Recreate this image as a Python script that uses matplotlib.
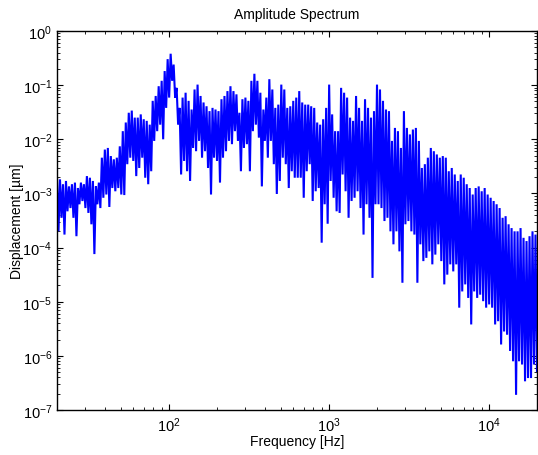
import numpy as np
import matplotlib
matplotlib.use('Agg')
import matplotlib.pyplot as plt

# amplitude spectrum
# (log10 of displacement in um, upper and lower edge of the trace)
hiLog = [-2.71, -2.74, -2.83, -2.77, -2.87, -2.83, -2.80, -2.90, -2.80, -2.83, -2.68, -2.71, -2.77, -2.87, -2.80, -2.34,
         -2.19, -2.16, -2.31, -2.37, -2.34, -2.13, -1.85, -1.69, -1.51, -1.47, -1.60,
         -1.60, -1.54, -1.63, -1.66, -1.73, -1.29, -1.20, -1.02, -0.92, -0.74, -0.52, -0.42, -0.62, -1.05, -1.42, -1.23,
         -1.14, -1.29, -1.45, -1.08, -0.99, -1.20, -1.32, -1.39, -1.48, -1.42, -1.45,
         -1.48, -1.26, -1.20, -1.11, -1.02, -1.11, -1.17, -1.51, -1.26, -1.23, -1.29, -0.92, -0.79, -0.92, -1.14, -1.45,
         -1.23, -0.89, -1.08, -1.42, -1.36, -0.99, -1.08, -1.42, -1.39, -1.29, -1.23,
         -1.11, -1.32, -1.36, -1.36, -1.39, -1.42, -1.69, -1.73, -1.63, -1.42, -0.99, -1.54, -1.85, -1.85, -1.05, -1.14,
         -1.23, -1.60, -1.66, -1.20, -1.42, -1.66, -1.26, -1.42, -1.60, -1.48,
         -0.99, -1.08, -1.29, -1.45, -1.48, -2.03, -1.79, -1.85, -2.16, -1.48, -1.79, -1.91, -1.82, -1.79, -2.03, -2.53,
         -2.46, -2.34, -2.16, -2.22, -2.28, -2.34, -2.31, -2.34, -2.59, -2.53, -2.65,
         -2.77, -2.65, -2.71, -2.83, -2.90, -3.02, -2.90, -2.87, -2.96, -2.90, -3.02, -3.08, -3.14, -3.20, -3.27, -3.45,
         -3.42, -3.57, -3.64, -3.70, -3.70, -3.64, -3.82, -3.88, -3.79, -3.70, -3.76]

loLog = [-3.70, -3.45, -3.76, -3.33, -3.27, -3.45, -3.79, -3.20, -3.14, -3.27, -3.36, -3.57, -4.12, -3.20, -3.27, -3.08,
         -3.02, -3.25, -2.90, -2.96, -2.90, -3.02, -3.03, -2.46, -2.34, -2.40, -2.68,
         -2.53, -2.34, -2.71, -2.83, -2.59, -2.03, -1.85, -1.73, -2.00, -1.42, -1.23, -0.92, -1.23, -1.73, -2.65, -2.40,
         -2.59, -2.77, -2.16, -2.22, -2.03, -2.34, -2.22, -2.53, -3.02, -2.34, -2.40,
         -2.80, -2.34, -2.22, -2.03, -2.09, -1.85, -2.03, -2.59, -2.16, -2.09, -2.59, -1.85, -1.73, -1.97, -2.87, -2.03,
         -2.34, -2.03, -2.46, -3.01, -2.77, -2.34, -2.46, -2.90, -2.59, -2.71, -2.71,
         -2.71, -3.08, -2.59, -2.46, -3.14, -2.96, -2.90, -3.91, -3.20, -3.56, -2.77, -3.08, -3.33, -3.36, -2.65, -2.96,
         -3.45, -3.14, -3.08, -2.96, -3.27, -3.76, -3.20, -3.45, -4.56, -3.20,
         -3.20, -3.27, -3.51, -3.45, -3.70, -3.94, -3.70, -4.07, -4.65, -3.57, -3.51, -3.70, -3.76, -4.65, -3.94, -4.25,
         -4.19, -4.07, -4.31, -4.13, -3.94, -4.25, -4.68, -4.50, -4.31, -4.44, -4.31,
         -5.11, -4.81, -4.68, -4.93, -5.42, -4.81, -4.93, -4.87, -4.99, -5.11, -5.05, -5.11, -5.42, -5.36, -5.79, -5.55,
         -5.61, -5.91, -6.10, -6.72, -6.10, -6.16, -6.47, -6.41, -6.41, -6.16, -6.28]

fMin = 20
fMax = 20000

# zigzag between the upper and lower edge of each column
amp = np.empty(2 * len(hiLog))
amp[0::2] = 10.0 ** np.array(hiLog)
amp[1::2] = 10.0 ** np.array(loLog)
freq = np.geomspace(fMin, fMax, len(amp))

plt.rcParams['font.family'] = ['Liberation Sans', 'DejaVu Sans']
plt.rcParams['mathtext.fontset'] = 'custom'
plt.rcParams['mathtext.rm'] = 'Liberation Sans'
plt.rcParams['mathtext.it'] = 'Liberation Sans:italic'
plt.rcParams['font.size'] = 10

fig = plt.figure(figsize=(5.38, 4.56), dpi=100)
ax = fig.add_axes([57/538, 45/456, 480/538, 379/456])
ax.plot(freq, amp, color='#0000ff', linewidth=1.5, solid_joinstyle='miter')
ax.set_xscale('log')
ax.set_yscale('log')
ax.set_xlim(fMin, fMax)
ax.set_ylim(1e-7, 1e0)
ax.set_yticks([10.0**k for k in range(-7, 1)])
ax.tick_params(which='both', direction='in', top=True, right=True, colors='black', labelsize=10.5)
ax.tick_params(which='major', length=4, width=0.8)
ax.tick_params(which='minor', length=2, width=0.6)
ax.tick_params(axis='x', pad=4)
for s in ax.spines.values():
    s.set_linewidth(1.0)
ax.set_title('Amplitude Spectrum', fontsize=10, pad=9)
ax.set_xlabel('Frequency [Hz]', fontsize=10, labelpad=0)
ax.set_ylabel('Displacement [µm]', fontsize=10, labelpad=-1)
plt.savefig('out.png', dpi=100)
